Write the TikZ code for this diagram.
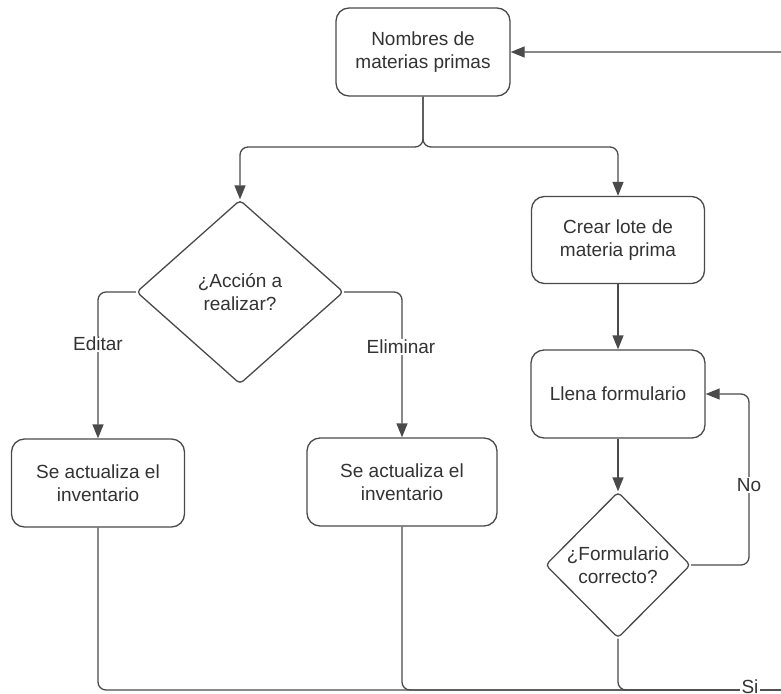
\documentclass[tikz,border=0pt]{standalone}
\usepackage{fontspec}
\setmainfont{Liberation Sans}
\usetikzlibrary{arrows.meta,shapes.geometric}
\definecolor{ink}{HTML}{333333}
\definecolor{edge}{HTML}{4A4A4A}
\begin{document}
\begin{tikzpicture}[x=1pt,y=-1pt,
  font=\fontsize{19}{23}\selectfont,
  procbox/.style={draw=edge, line width=1.3pt, rounded corners=13pt, fill=white,
    text=ink, align=center, inner sep=0pt},
  decision/.style={draw=edge, line width=1.3pt, diamond, rounded corners=4pt,
    fill=white, inner sep=0pt},
  conn/.style={draw=edge, line width=1.3pt, rounded corners=8pt},
  arr/.style={conn, -{Triangle[length=14pt,width=11pt]}},
  lbl/.style={fill=white, text=ink, inner sep=1.5pt}]
  \useasboundingbox (0,0) rectangle (781,693);

  % process boxes
  \node[procbox, minimum width=174pt, minimum height=88pt] (top) at (423,52) {Nombres de\\materias primas};
  \node[procbox, minimum width=173pt, minimum height=88pt] (edit) at (98,483) {Se actualiza el\\inventario};
  \node[procbox, minimum width=190pt, minimum height=88pt] (del) at (402,482) {Se actualiza el\\inventario};
  \node[procbox, minimum width=173pt, minimum height=87pt] (crear) at (618,240) {Crear lote de\\materia prima};
  \node[procbox, minimum width=174pt, minimum height=88pt] (llena) at (618,394) {Llena formulario};

  % decisions
  \node[decision, minimum width=207pt, minimum height=184pt,
    label={[text=ink, align=center]center:¿Acción a\\realizar?}] (accion) at (240,292) {};
  \node[decision, minimum width=145pt, minimum height=146pt,
    label={[text=ink, align=center]center:¿Formulario\\correcto?}] (form) at (618,565) {};

  % routing points
  \coordinate (fork) at (423,147);
  \coordinate (nocorner) at (749,394);
  \coordinate (retB) at (800,690);
  \coordinate (retT) at (800,52);

  % connectors
  \draw[arr] (top.south) -- (fork) -| (accion.north);
  \draw[arr] (top.south) -- (fork) -| (crear.north);
  \draw[arr] (accion.west) -| (edit.north);
  \draw[arr] (accion.east) -| (del.north);
  \draw[arr] (crear.south) -- (llena.north);
  \draw[arr] (llena.south) -- (form.north);
  \draw[arr] (form.east) -| (nocorner) -- (llena.east);
  \draw[conn] (edit.south) |- (retB);
  \draw[conn] (del.south) |- (retB);
  \draw[arr] (form.south) |- (retB) -- (retT) -- (top.east);

  % connector labels
  \node[lbl] (lEditar) at (98,344) {Editar};
  \node[lbl] (lEliminar) at (401,347) {Eliminar};
  \node[lbl] (lNo) at (749,485) {No};
  \node[lbl] (lSi) at (750,687) {Si};
\end{tikzpicture}
\end{document}
